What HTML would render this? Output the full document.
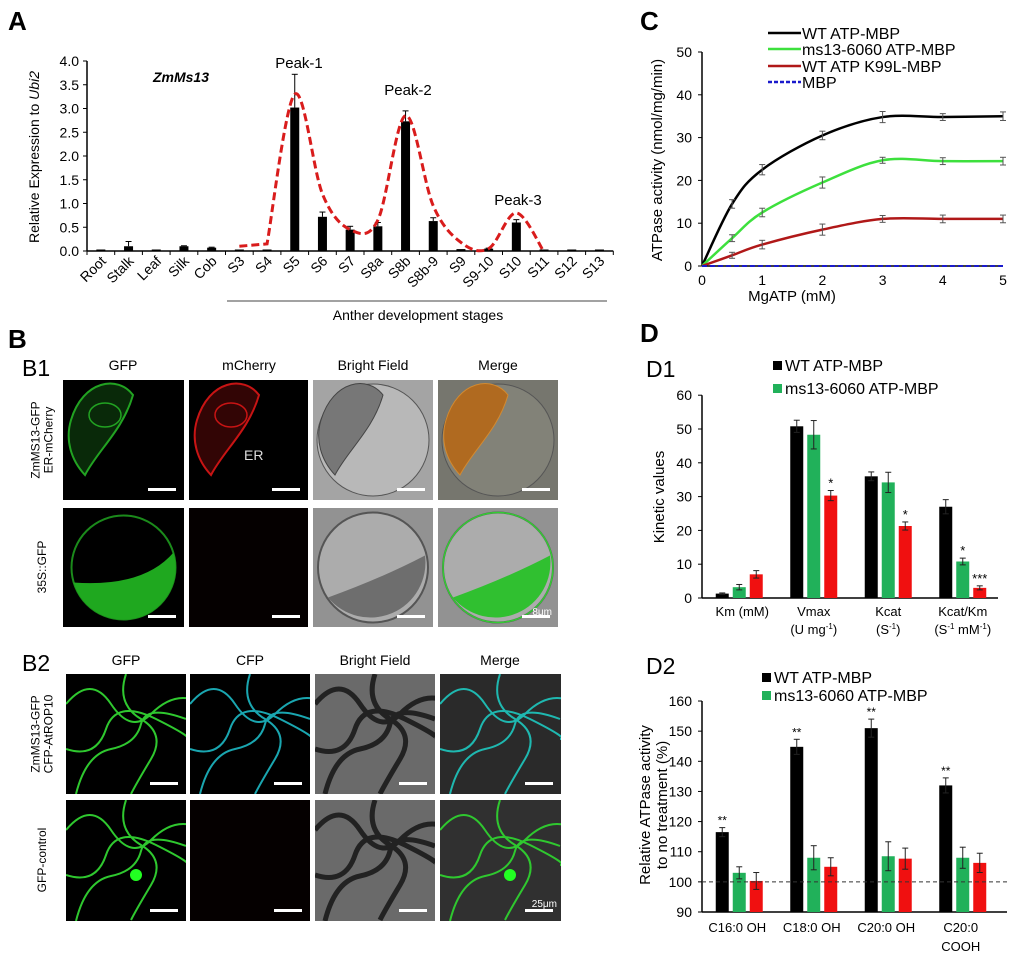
<!DOCTYPE html>
<html><head><meta charset="utf-8"><style>
html,body{margin:0;padding:0;background:#fff;}
svg{display:block;font-family:"Liberation Sans",Arial,sans-serif;}
</style></head><body>
<svg id="fig" width="1026" height="959" viewBox="0 0 1026 959" xmlns="http://www.w3.org/2000/svg">
<rect width="1026" height="959" fill="#fff"/>
<text x="8" y="30" font-size="26" font-weight="bold">A</text>
<text x="8" y="348" font-size="26" font-weight="bold">B</text>
<text x="640" y="30" font-size="26" font-weight="bold">C</text>
<text x="640" y="342" font-size="26" font-weight="bold">D</text>
<text x="646" y="377" font-size="23">D1</text>
<text x="646" y="674" font-size="23">D2</text>
<text x="22" y="376" font-size="23">B1</text>
<text x="22" y="671" font-size="23">B2</text>
<g id="gA"></g>
<g id="gB"></g>
<g id="gC"></g>
<g id="gD1"></g>
<g id="gD2"></g>
</svg>
<script>
// ---------- Panel A data ----------
const catsA = ["Root","Stalk","Leaf","Silk","Cob","S3","S4","S5","S6","S7","S8a","S8b","S8b-9","S9","S9-10","S10","S11","S12","S13"];
const valsA = [0.01,0.1,0.01,0.1,0.07,0.01,0.01,3.02,0.72,0.45,0.52,2.73,0.63,0.04,0.05,0.6,0.01,0.01,0.01];
const errsA = [0,0.1,0,0.01,0.01,0,0,0.7,0.1,0.07,0.08,0.22,0.07,0,0.01,0.06,0,0,0];
const curveStartA = 5;
const curveA = [0.1,0.15,3.3,1.2,0.45,0.65,2.85,0.95,0.18,0.05,0.8,-0.02];
const ticksA = [0,0.5,1,1.5,2,2.5,3,3.5,4];
// ---------- Panel C data ----------
const xC_vals = [0,0.5,1,2,3,4,5];
const wtC = [0,14.5,22.5,30.5,34.8,34.8,35];
const msC = [0,6.5,12.5,19.5,24.7,24.5,24.5];
const k99C = [0,2.5,5,8.5,11,11,11];
const mbpC = [0,0,0,0,0,0,0];
const errWtC = [0,1,1.2,1,1.3,0.8,1];
const errMsC = [0,0.8,1,1.3,0.7,0.8,0.9];
const errK99C = [0,0.7,1,1.3,0.8,0.9,0.9];
const ticksCy = [0,10,20,30,40,50];
const ticksCx = [0,1,2,3,4,5];
// ---------- Panel D1 data ----------
const catsD1 = ["Km","Vmax","Kcat","Kcat/Km"];
const wtD1 = [1.3,50.8,36,27];
const msD1 = [3.2,48.3,34.2,10.8];
const redD1 = [7,30.3,21.3,3];
const errWtD1 = [0.2,1.8,1.3,2.1];
const errMsD1 = [0.8,4.2,3,1];
const errRedD1 = [1.1,1.5,1.2,0.6];
const starsMsD1 = ["","","","*"];
const starsRedD1 = ["","*","*","***"];
const ticksD1 = [0,10,20,30,40,50,60];
// ---------- Panel D2 data ----------
const catsD2 = ["C16:0 OH","C18:0 OH","C20:0 OH","C20:0 COOH"];
const wtD2 = [116.5,144.8,151,132];
const msD2 = [103,108,108.5,108];
const redD2 = [100.3,105,107.7,106.3];
const errWtD2 = [1.5,2.5,3,2.5];
const errMsD2 = [2,4,4.8,3.5];
const errRedD2 = [2.8,3,3.5,3.2];
const ticksD2 = [90,100,110,120,130,140,150,160];

const NS = "http://www.w3.org/2000/svg";
function el(tag, parent, attrs){ const e=document.createElementNS(NS,tag); for(const k in attrs) e.setAttribute(k,attrs[k]); parent.appendChild(e); return e; }
function catmull(pts, noMove){ let d=(noMove?"L":"M")+pts[0][0]+","+pts[0][1];
  for(let i=0;i<pts.length-1;i++){ const p0=pts[Math.max(0,i-1)],p1=pts[i],p2=pts[i+1],p3=pts[Math.min(pts.length-1,i+2)];
    const c1x=p1[0]+(p2[0]-p0[0])/6,c1y=p1[1]+(p2[1]-p0[1])/6,c2x=p2[0]-(p3[0]-p1[0])/6,c2y=p2[1]-(p3[1]-p1[1])/6;
    d+=" C"+c1x+","+c1y+" "+c2x+","+c2y+" "+p2[0]+","+p2[1]; } return d; }

// ================= Panel A =================
(function(){
const g=document.getElementById("gA");
const x0=87, cw=27.7, y0=251, sy=47.5;
const xA=i=>x0+(i+0.5)*cw, yA=v=>y0-v*sy;
let e;
e=el("line",g,{x1:x0,y1:yA(4),x2:x0,y2:y0,stroke:"#000","stroke-width":1.5});
 
e=el("line",g,{x1:x0,y1:y0,x2:x0+catsA.length*cw,y2:y0,stroke:"#000","stroke-width":1.5});
 
ticksA.forEach(t=>{
  el("line",g,{x1:x0-4,x2:x0,y1:yA(t),y2:yA(t),stroke:"#000"});
  e=el("text",g,{x:x0-8,y:yA(t)+5,"text-anchor":"end","font-size":14}); e.textContent=t.toFixed(1);
   
});
for(let i=0;i<=catsA.length;i++) el("line",g,{x1:x0+i*cw,x2:x0+i*cw,y1:y0,y2:y0+4,stroke:"#000"});
catsA.forEach((c,i)=>{
  const x=xA(i)+6, y=262;
  e=el("text",g,{x:x,y:y,"text-anchor":"end","font-size":14,transform:"rotate(-45 "+x+" "+y+")"}); e.textContent=c;
   
  const h=Math.max(valsA[i]*sy,1.5);
  e=el("rect",g,{x:xA(i)-4.5,y:y0-h,width:9,height:h,fill:"#000"});
   
  if(errsA[i]>0){ const yt=yA(valsA[i]+errsA[i]);
    el("line",g,{x1:xA(i),x2:xA(i),y1:yA(valsA[i]),y2:yt,stroke:"#000"});
    el("line",g,{x1:xA(i)-3,x2:xA(i)+3,y1:yt,y2:yt,stroke:"#000"}); }
});
const pts=curveA.map((v,k)=>[xA(curveStartA+k),yA(v)]);
const dA="M"+pts[0][0]+","+pts[0][1]+" "+catmull(pts.slice(1),true);
e=el("path",g,{d:dA,fill:"none",stroke:"#d91c1c","stroke-width":3,"stroke-dasharray":"8,4"});
 
e=el("text",g,{x:x0-48,y:157,"text-anchor":"middle","font-size":14,transform:"rotate(-90 "+(x0-48)+" 157)"});
e.innerHTML='Relative Expression to <tspan font-style="italic">Ubi2</tspan>';
 
e=el("text",g,{x:181,y:82,"text-anchor":"middle","font-size":14,"font-weight":"bold","font-style":"italic"}); e.textContent="ZmMs13";
 
[["Peak-1",299,68],["Peak-2",408,95],["Peak-3",518,205]].forEach(p=>{
  e=el("text",g,{x:p[1],y:p[2],"text-anchor":"middle","font-size":15}); e.textContent=p[0];
   
});
e=el("line",g,{x1:227,x2:607,y1:301,y2:301,stroke:"#444"});
 
e=el("text",g,{x:418,y:320,"text-anchor":"middle","font-size":14}); e.textContent="Anther development stages";
 
})();

// ================= Panel B (micrographs) =================
(function(){
const g=document.getElementById("gB");
let e;
const colsX=[63,189,313,438], colsB2=[66,190,315,440];
const titles1=["GFP","mCherry","Bright Field","Merge"], titles2=["GFP","CFP","Bright Field","Merge"];
titles1.forEach((t,i)=>{ e=el("text",g,{x:colsX[i]+60,y:370,"text-anchor":"middle","font-size":14}); e.textContent=t;
    });
titles2.forEach((t,i)=>{ e=el("text",g,{x:colsB2[i]+60,y:665,"text-anchor":"middle","font-size":14}); e.textContent=t;
    });
function rowLabel(lines,cx,cy){ lines.forEach((l,k)=>{ const x=cx+(k-(lines.length-1)/2)*13;
  e=el("text",g,{x:x,y:cy,"text-anchor":"middle","font-size":12,transform:"rotate(-90 "+x+" "+cy+")"}); e.textContent=l;
    }); }
rowLabel(["ZmMS13-GFP","ER-mCherry"],46,440);
rowLabel(["35S::GFP"],46,567);
rowLabel(["ZmMS13-GFP","CFP-AtROP10"],46,734);
rowLabel(["GFP-control"],46,860);
function panel(x,y,w,h,kind,name){
  const p=el("g",g,{});
   
  const cid="c"+Math.round(x)+"_"+Math.round(y);
  const cp=el("clipPath",p,{id:cid}); el("rect",cp,{x:x,y:y,width:w,height:h});
  const q=el("g",p,{"clip-path":"url(#"+cid+")"});
  const cx=x+w/2, cy=y+h/2;
  const er="M"+(x+8)+","+(y+40)+" C"+(x+20)+","+(y)+" "+(x+55)+","+(y-5)+" "+(x+70)+","+(y+15)+" C"+(x+60)+","+(y+50)+" "+(x+35)+","+(y+70)+" "+(x+22)+","+(y+95)+" C"+(x+8)+","+(y+80)+" "+(x+2)+","+(y+60)+" "+(x+8)+","+(y+40)+"Z";
  const cells="M"+x+","+(y+30)+" q25,-30 45,0 t40,10 t40,-15 M"+(x+10)+","+(y+h)+" q10,-40 35,-45 t30,-25 t45,-5 M"+(x+60)+","+y+" q-10,30 15,45 t10,40 t-20,35 M"+(x)+","+(y+75)+" q30,10 40,-20 t50,-10 t30,20";
  if(kind==="gfpER"||kind==="cherry"){ const c=kind==="gfpER"?"#22a322":"#c81414";
    el("rect",q,{x:x,y:y,width:w,height:h,fill:"#000"});
    el("path",q,{d:er,fill:c,"fill-opacity":0.25,stroke:c,"stroke-width":2});
    el("ellipse",q,{cx:x+42,cy:y+35,rx:16,ry:12,fill:"none",stroke:c,"stroke-width":1.5});
    if(kind==="cherry"){ e=el("text",q,{x:x+55,y:y+80,"font-size":14,fill:"#ddd"}); e.textContent="ER"; } }
  else if(kind==="bf1"||kind==="merge1"){ el("rect",q,{x:x,y:y,width:w,height:h,fill:kind==="bf1"?"#a4a4a4":"#76766e"});
    el("circle",q,{cx:cx,cy:cy,r:56,fill:kind==="bf1"?"#b8b8b8":"#828278",stroke:"#555"});
    el("path",q,{d:er,fill:kind==="bf1"?"#777":"#b06a20",stroke:kind==="bf1"?"#444":"#d38a30"}); }
  else if(kind==="gfpCyt"){ el("rect",q,{x:x,y:y,width:w,height:h,fill:"#000"});
    el("circle",q,{cx:cx,cy:cy,r:52,fill:"none",stroke:"#1b8a1b","stroke-width":2});
    el("path",q,{d:"M"+(cx-50)+","+(cy+15)+" A52,52 0 0 0 "+(cx+50)+","+(cy-15)+" Q"+(cx+20)+","+(cy+20)+" "+(cx-50)+","+(cy+15)+"Z",fill:"#1fa81f"}); }
  else if(kind==="dark"){ el("rect",q,{x:x,y:y,width:w,height:h,fill:"#050000"}); }
  else if(kind==="bf2"||kind==="merge2"){ el("rect",q,{x:x,y:y,width:w,height:h,fill:"#929292"});
    el("circle",q,{cx:cx,cy:cy,r:55,fill:"#acacac",stroke:"#555","stroke-width":2});
    el("path",q,{d:"M"+(cx-45)+","+(cy+30)+" A55,55 0 0 0 "+(cx+52)+","+(cy-12)+" Q"+(cx+10)+","+(cy+10)+" "+(cx-45)+","+(cy+30)+"Z",fill:kind==="bf2"?"#6e6e6e":"#30c030"});
    if(kind==="merge2"){ el("circle",q,{cx:cx,cy:cy,r:55,fill:"none",stroke:"#3c3","stroke-width":1.5});
      e=el("text",q,{x:x+w-6,y:y+h-12,"text-anchor":"end","font-size":10,fill:"#fff"}); e.textContent="8μm"; } }
  else { const bg={cellsG:"#000",cellsC:"#000",cellsBF:"#6a6a6a",cellsM:"#2a2a2a",cellsGM:"#303030"}[kind];
    const st={cellsG:"#2fc82f",cellsC:"#1aa6b0",cellsBF:"#222",cellsM:"#1fb8b0",cellsGM:"#2fc82f"}[kind];
    el("rect",q,{x:x,y:y,width:w,height:h,fill:bg});
    el("path",q,{d:cells,fill:"none",stroke:st,"stroke-width":kind==="cellsBF"?5:2});
    if(name.indexOf("ctrl")>=0 && kind!=="cellsBF"){ el("circle",q,{cx:x+70,cy:y+75,r:6,fill:"#2f2"}); }
    if(name==="b2-ctrl-merge"){ e=el("text",q,{x:x+w-4,y:y+h-14,"text-anchor":"end","font-size":10,fill:"#fff"}); e.textContent="25μm"; } }
  el("rect",p,{x:x+w-36,y:y+h-12,width:28,height:3,fill:"#fff"});
}
const h1=120;
panel(63,380,121,h1,"gfpER","b1-er-gfp"); panel(189,380,119,h1,"cherry","b1-er-mcherry");
panel(313,380,120,h1,"bf1","b1-er-brightfield"); panel(438,380,120,h1,"merge1","b1-er-merge");
panel(63,508,121,119,"gfpCyt","b1-35s-gfp"); panel(189,508,119,119,"dark","b1-35s-mcherry");
panel(313,508,120,119,"bf2","b1-35s-brightfield"); panel(438,508,120,119,"merge2","b1-35s-merge");
panel(66,674,120,120,"cellsG","b2-rop-gfp"); panel(190,674,120,120,"cellsC","b2-rop-cfp");
panel(315,674,120,120,"cellsBF","b2-rop-brightfield"); panel(440,674,121,120,"cellsM","b2-rop-merge");
panel(66,800,120,121,"cellsG","b2-ctrl-gfp"); panel(190,800,120,121,"dark","b2-ctrl-cfp");
panel(315,800,120,121,"cellsBF","b2-ctrl-brightfield"); panel(440,800,121,121,"cellsGM","b2-ctrl-merge");
})();

// ================= Panel C =================
(function(){
const g=document.getElementById("gC");
const xC=v=>702+v*60.2, yC=v=>266-v*4.28;
let e;
e=el("line",g,{x1:702,x2:702,y1:yC(50),y2:266,stroke:"#000","stroke-width":1.5});
 
e=el("line",g,{x1:702,x2:xC(5),y1:266,y2:266,stroke:"#000","stroke-width":1.5});
 
ticksCy.forEach(t=>{ el("line",g,{x1:698,x2:702,y1:yC(t),y2:yC(t),stroke:"#000"});
  e=el("text",g,{x:692,y:yC(t)+5,"text-anchor":"end","font-size":14}); e.textContent=t;
    });
ticksCx.forEach(t=>{ e=el("text",g,{x:xC(t),y:285,"text-anchor":"middle","font-size":14}); e.textContent=t;
    });
e=el("text",g,{x:792,y:301,"text-anchor":"middle","font-size":15}); e.textContent="MgATP (mM)";
 
e=el("text",g,{x:662,y:160,"text-anchor":"middle","font-size":15,transform:"rotate(-90 662 160)"}); e.textContent="ATPase activity (nmol/mg/min)";
 
const series=[[wtC,errWtC,"#000","c-line-wt"],[msC,errMsC,"#3de03d","c-line-ms13"],[k99C,errK99C,"#b01818","c-line-k99l"]];
series.forEach(s=>{
  const pts=xC_vals.map((xv,i)=>[xC(xv),yC(s[0][i])]);
  e=el("path",g,{d:catmull(pts),fill:"none",stroke:s[2],"stroke-width":2.5});
   
  xC_vals.forEach((xv,i)=>{ if(s[1][i]>0){ const x=xC(xv),a=yC(s[0][i]+s[1][i]),b=yC(s[0][i]-s[1][i]);
    el("line",g,{x1:x,x2:x,y1:a,y2:b,stroke:"#555"}); el("line",g,{x1:x-3,x2:x+3,y1:a,y2:a,stroke:"#555"}); el("line",g,{x1:x-3,x2:x+3,y1:b,y2:b,stroke:"#555"}); } });
});
const mpts=xC_vals.map((xv,i)=>[xC(xv),yC(mbpC[i])]);
e=el("path",g,{d:catmull(mpts),fill:"none",stroke:"#1a1acc","stroke-width":2,"stroke-dasharray":"5,3"});
 
[["WT ATP-MBP","#000",33,""],["ms13-6060 ATP-MBP","#3de03d",49,""],["WT ATP K99L-MBP","#b01818",66,""],["MBP","#1a1acc",82,"4,2"]].forEach(l=>{
  e=el("line",g,{x1:768,x2:801,y1:l[2],y2:l[2],stroke:l[1],"stroke-width":2.5,"stroke-dasharray":l[3]||"none"});
   
  e=el("text",g,{x:802,y:l[2]+6,"font-size":16}); e.textContent=l[0];
    });
})();

// ================= Panel D helpers =================
function barChart(gid,pref,yf,ymin,ticks,wt,ms,red,ew,em,er,axisEnd){
  const g=document.getElementById(gid); let e;
  const cx=i=>702+(i+0.5)*74.5, base=yf(ymin);
  e=el("line",g,{x1:702,x2:702,y1:yf(ticks[ticks.length-1]),y2:base,stroke:"#000","stroke-width":1.5});
   
  e=el("line",g,{x1:702,x2:axisEnd,y1:base,y2:base,stroke:"#000","stroke-width":1.5});
   
  ticks.forEach(t=>{ el("line",g,{x1:698,x2:702,y1:yf(t),y2:yf(t),stroke:"#000"});
    e=el("text",g,{x:692,y:yf(t)+5,"text-anchor":"end","font-size":14}); e.textContent=t;
      });
  const sets=[[wt,ew,"#000",-17],[ms,em,"#21b15a",0],[red,er,"#f01010",17]];
  wt.forEach((_,i)=>{ sets.forEach(s=>{ const x=cx(i)+s[3], v=s[0][i];
    e=el("rect",g,{x:x-6.5,y:yf(v),width:13,height:base-yf(v),fill:s[2]});
     
    const a=yf(v+s[1][i]), b=yf(v-s[1][i]);
    el("line",g,{x1:x,x2:x,y1:a,y2:b,stroke:"#222"}); el("line",g,{x1:x-3,x2:x+3,y1:a,y2:a,stroke:"#222"}); el("line",g,{x1:x-3,x2:x+3,y1:b,y2:b,stroke:"#222"}); }); });
  return {g,cx};
}
// ================= Panel D1 =================
(function(){
const yD1=v=>598-v*3.38;
const r=barChart("gD1","d1",yD1,0,ticksD1,wtD1,msD1,redD1,errWtD1,errMsD1,errRedD1,998);
const g=r.g; let e;
catsD1.forEach((c,i)=>{
  [[msD1,errMsD1,starsMsD1,0],[redD1,errRedD1,starsRedD1,17]].forEach(s=>{ if(s[2][i]){
    e=el("text",g,{x:r.cx(i)+s[3],y:yD1(s[0][i]+s[1][i])-3,"text-anchor":"middle","font-size":13}); e.textContent=s[2][i];
      } }); });
const labs=[["Km (mM)",""],["Vmax",'(U mg<tspan font-size="8" dy="-5">-1</tspan><tspan dy="5">)</tspan>'],["Kcat",'(S<tspan font-size="8" dy="-5">-1</tspan><tspan dy="5">)</tspan>'],["Kcat/Km",'(S<tspan font-size="8" dy="-5">-1</tspan><tspan dy="5"> mM</tspan><tspan font-size="8" dy="-5">-1</tspan><tspan dy="5">)</tspan>']];
labs.forEach((l,i)=>{ e=el("text",g,{x:r.cx(i)+(i===0?3:0),y:616,"text-anchor":"middle","font-size":13}); e.textContent=l[0];
   
  if(l[1]){ e=el("text",g,{x:r.cx(i),y:634,"text-anchor":"middle","font-size":13}); e.innerHTML=l[1];
    } });
e=el("text",g,{x:664,y:497,"text-anchor":"middle","font-size":15,transform:"rotate(-90 664 497)"}); e.textContent="Kinetic values";
 
[["WT ATP-MBP","#000",367],["ms13-6060 ATP-MBP","#21b15a",390]].forEach(l=>{
  e=el("rect",g,{x:773,y:l[2]-6,width:9,height:9,fill:l[1]});  
  e=el("text",g,{x:785,y:l[2]+4,"font-size":16}); e.textContent=l[0];   });
})();
// ================= Panel D2 =================
(function(){
const yD2=v=>912-(v-90)*3.014;
const r=barChart("gD2","d2",yD2,90,ticksD2,wtD2,msD2,redD2,errWtD2,errMsD2,errRedD2,1007);
const g=r.g; let e;
e=el("line",g,{x1:702,x2:1007,y1:yD2(100),y2:yD2(100),stroke:"#333","stroke-dasharray":"4,3"});
 
catsD2.forEach((c,i)=>{ e=el("text",g,{x:r.cx(i)-17,y:yD2(wtD2[i]+errWtD2[i])-3,"text-anchor":"middle","font-size":12}); e.textContent="**";
   
  const parts=i===3?["C20:0","COOH"]:[c];
  parts.forEach((p,k)=>{ e=el("text",g,{x:r.cx(i)-2,y:932+k*19,"text-anchor":"middle","font-size":13}); e.textContent=p;
    }); });
[["Relative ATPase activity",650],["to no treatment (%)",667]].forEach(l=>{
  e=el("text",g,{x:l[1],y:805,"text-anchor":"middle","font-size":15,transform:"rotate(-90 "+l[1]+" 805)"}); e.textContent=l[0];
    });
[["WT ATP-MBP","#000",679],["ms13-6060 ATP-MBP","#21b15a",697]].forEach(l=>{
  e=el("rect",g,{x:762,y:l[2]-6,width:9,height:9,fill:l[1]});  
  e=el("text",g,{x:774,y:l[2]+4,"font-size":16}); e.textContent=l[0];   });
})();
</script>
</body></html>
